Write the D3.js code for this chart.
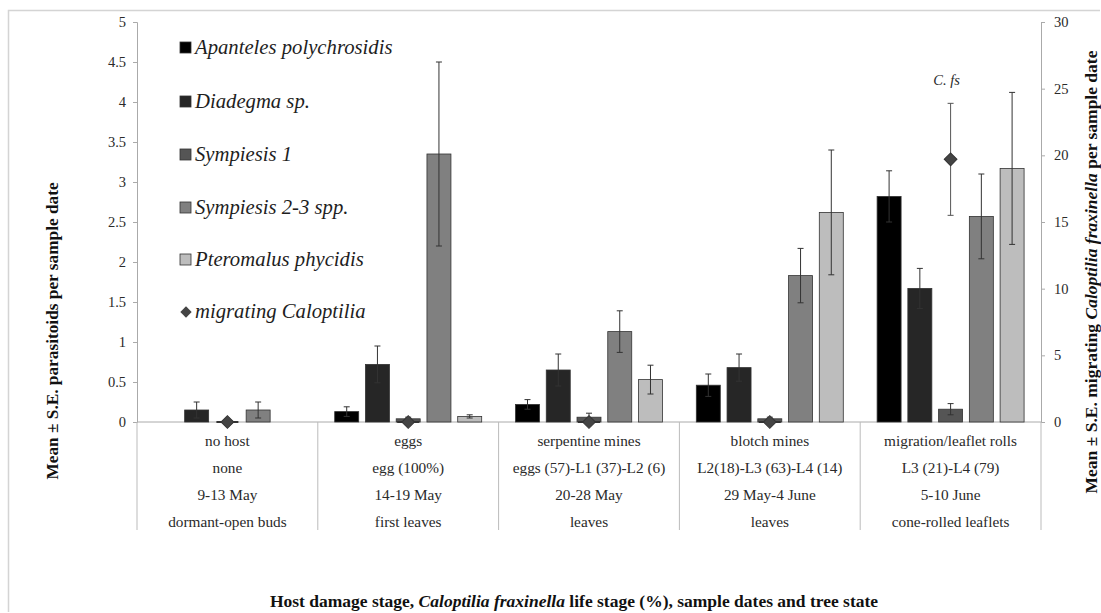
<!DOCTYPE html>
<html>
<head>
<meta charset="utf-8">
<script src="https://cdn.jsdelivr.net/npm/d3@7"></script>
<style>
  body { margin: 0; background: #fff; }
</style>
</head>
<body>
<svg id="chart" width="1101" height="613"></svg>
<script>
// Sampling periods (four rows of category text per period)
const stages = ["no host", "eggs", "serpentine mines", "blotch mines", "migration/leaflet rolls"];
const lifeStages = ["none", "egg (100%)", "eggs (57)-L1 (37)-L2 (6)", "L2(18)-L3 (63)-L4 (14)", "L3 (21)-L4 (79)"];
const dates = ["9-13 May", "14-19 May", "20-28 May", "29 May-4 June", "5-10 June"];
const treeStates = ["dormant-open buds", "first leaves", "leaves", "leaves", "cone-rolled leaflets"];

// Parasitoid series (left axis): mean and S.E. per period
const seriesNames = ["Apanteles polychrosidis", "Diadegma sp.", "Sympiesis 1", "Sympiesis 2-3 spp.", "Pteromalus phycidis"];
const seriesColors = ["#000000", "#262626", "#555555", "#808080", "#bdbdbd"];
const apantelesMean = [0, 0.13, 0.22, 0.46, 2.82];
const apantelesSE   = [0, 0.06, 0.06, 0.14, 0.32];
const diadegmaMean  = [0.15, 0.72, 0.65, 0.68, 1.67];
const diadegmaSE    = [0.10, 0.23, 0.20, 0.17, 0.25];
const symp1Mean     = [0, 0.04, 0.06, 0.04, 0.16];
const symp1SE       = [0, 0.02, 0.05, 0.02, 0.07];
const symp23Mean    = [0.15, 3.35, 1.13, 1.83, 2.57];
const symp23SE      = [0.10, 1.15, 0.26, 0.34, 0.53];
const pteroMean     = [0, 0.07, 0.53, 2.62, 3.17];
const pteroSE       = [0, 0.02, 0.18, 0.78, 0.95];

// Migrating Caloptilia fraxinella (right axis)
const migratingName = "migrating Caloptilia";
const migratingMean = [0, 0, 0, 0, 19.7];
const migratingSE   = [0, 0, 0, 0, 4.2];

const leftTicks = [0, 0.5, 1, 1.5, 2, 2.5, 3, 3.5, 4, 4.5, 5];
const rightTicks = [0, 5, 10, 15, 20, 25, 30];

const means = [apantelesMean, diadegmaMean, symp1Mean, symp23Mean, pteroMean];
const ses = [apantelesSE, diadegmaSE, symp1SE, symp23SE, pteroSE];

const SERIF = "'Liberation Serif', 'Times New Roman', Times, serif";
const svg = d3.select("#chart").attr("font-family", SERIF);
const m = { left: 137, right: 1041, top: 22, bottom: 422 };

// light outer frame
svg.append("path")
  .attr("d", "M8.5,612 V10.5 H1100")
  .attr("fill", "none").attr("stroke", "#d4d4d4").attr("stroke-width", 1.5);

const x0 = d3.scaleBand().domain(d3.range(stages.length)).range([m.left, m.right]).paddingInner(0).paddingOuter(0);
const x1 = d3.scaleBand().domain(d3.range(seriesNames.length)).range([0, x0.bandwidth()]).paddingInner(0.22).paddingOuter(0.55);
const yL = d3.scaleLinear().domain([0, 5]).range([m.bottom, m.top]);
const yR = d3.scaleLinear().domain([0, 30]).range([m.bottom, m.top]);

function styleText(sel, size) {
  return sel.style("font-family", SERIF).style("font-size", size).style("fill", "#2a2a2a");
}

// left axis
const axL = svg.append("g").attr("transform", `translate(${m.left},0)`)
  .call(d3.axisLeft(yL).tickValues(leftTicks).tickSize(4).tickPadding(7).tickFormat(d => String(d)));
axL.select(".domain").attr("stroke", "#aaa");
axL.selectAll(".tick line").attr("stroke", "#aaa");
styleText(axL.selectAll("text"), "14.5px");

// right axis
const axR = svg.append("g").attr("transform", `translate(${m.right},0)`)
  .call(d3.axisRight(yR).tickValues(rightTicks).tickSize(4).tickPadding(9));
axR.select(".domain").attr("stroke", "#aaa");
axR.selectAll(".tick line").attr("stroke", "#aaa");
styleText(axR.selectAll("text"), "14.5px");

// category axis: baseline and separators
svg.append("line").attr("x1", m.left).attr("x2", m.right).attr("y1", m.bottom).attr("y2", m.bottom)
  .attr("stroke", "#aaa");
const seps = d3.range(stages.length + 1).map(i => i < stages.length ? x0(i) : m.right);
svg.selectAll("line.sep").data(seps).join("line").attr("class", "sep")
  .attr("x1", d => d).attr("x2", d => d).attr("y1", m.bottom).attr("y2", 530)
  .attr("stroke", "#bbb");

const rows = [stages, lifeStages, dates, treeStates];
const rowY = [446, 473, 500, 527];
rows.forEach((row, r) => {
  styleText(svg.selectAll(null).data(row).join("text")
    .attr("x", (d, i) => x0(i) + x0.bandwidth() / 2)
    .attr("y", rowY[r])
    .attr("text-anchor", "middle"), "15.3px")
    .text(d => d);
});

// bars with error bars
means.forEach((arr, s) => {
  const g = svg.append("g");
  arr.forEach((v, i) => {
    if (v <= 0) return;
    const bx = x0(i) + x1(s);
    const bw = x1.bandwidth();
    g.append("rect").attr("x", bx).attr("y", yL(v)).attr("width", bw).attr("height", yL(0) - yL(v))
      .attr("fill", seriesColors[s]).attr("stroke", "#333").attr("stroke-width", 0.8);
    const se = ses[s][i];
    const cx = bx + bw / 2;
    const lo = Math.max(0, v - se), hi = v + se;
    g.append("line").attr("x1", cx).attr("x2", cx).attr("y1", yL(lo)).attr("y2", yL(hi))
      .attr("stroke", "#333").attr("stroke-width", 1);
    g.append("line").attr("x1", cx - 3).attr("x2", cx + 3).attr("y1", yL(hi)).attr("y2", yL(hi))
      .attr("stroke", "#333").attr("stroke-width", 1);
    if (v - se > 0) {
      g.append("line").attr("x1", cx - 3).attr("x2", cx + 3).attr("y1", yL(lo)).attr("y2", yL(lo))
        .attr("stroke", "#333").attr("stroke-width", 1);
    }
  });
});

// migrating Caloptilia diamonds on the right scale (square turned 45°)
const diamond = d3.symbol().type(d3.symbolSquare).size(81);
migratingMean.forEach((v, i) => {
  const cx = x0(i) + x1(2) + x1.bandwidth() / 2;
  const se = migratingSE[i];
  if (se > 0) {
    [v - se, v + se].forEach(e => {
      svg.append("line").attr("x1", cx - 3).attr("x2", cx + 3).attr("y1", yR(e)).attr("y2", yR(e))
        .attr("stroke", "#555");
    });
    svg.append("line").attr("x1", cx).attr("x2", cx).attr("y1", yR(v - se)).attr("y2", yR(v + se))
      .attr("stroke", "#555");
  } else {
    svg.append("line").attr("x1", cx - 11).attr("x2", cx + 11).attr("y1", yR(v)).attr("y2", yR(v))
      .attr("stroke", "#333").attr("stroke-width", 2);
  }
  svg.append("path").attr("d", diamond).attr("transform", `translate(${cx},${yR(v)}) rotate(45)`)
    .attr("fill", "#444").attr("stroke", "#333");
});

// C. fs annotation above last diamond
styleText(svg.append("text")
  .attr("x", x0(4) + x1(2) + x1.bandwidth() / 2 - 4)
  .attr("y", yR(migratingMean[4] + migratingSE[4]) - 18)
  .attr("text-anchor", "middle"), "14.5px").style("font-style", "italic")
  .text("C. fs");

// legend
const legendY = [48, 102, 155, 208, 260, 312];
const legendNames = seriesNames.concat([migratingName]);
legendNames.forEach((name, i) => {
  const y = legendY[i];
  if (i < seriesNames.length) {
    svg.append("rect").attr("x", 180).attr("y", y - 6).attr("width", 11).attr("height", 11)
      .attr("fill", seriesColors[i]).attr("stroke", "#333").attr("stroke-width", 0.8);
  } else {
    svg.append("path").attr("d", d3.symbol().type(d3.symbolSquare).size(64))
      .attr("transform", `translate(186,${y}) rotate(45)`).attr("fill", "#444");
  }
  styleText(svg.append("text").attr("x", 195).attr("y", y + 6), "20.7px")
    .style("font-style", "italic").style("fill", "#1e1e1e")
    .text(name);
});

// axis titles
styleText(svg.append("text")
  .attr("transform", "translate(58,331) rotate(-90)")
  .attr("text-anchor", "middle"), "17.3px").style("font-weight", "bold").style("fill", "#111")
  .text("Mean ± S.E. parasitoids per sample date");

const rt = styleText(svg.append("text")
  .attr("transform", "translate(1097,272) rotate(-90)")
  .attr("text-anchor", "middle"), "17.5px").style("font-weight", "bold").style("fill", "#111");
rt.append("tspan").text("Mean ± S.E. migrating ");
rt.append("tspan").style("font-style", "italic").text("Caloptilia fraxinella");
rt.append("tspan").text(" per sample date");

const xt = styleText(svg.append("text")
  .attr("x", 574).attr("y", 607)
  .attr("text-anchor", "middle"), "17.5px").style("font-weight", "bold").style("fill", "#111");
xt.append("tspan").text("Host damage stage, ");
xt.append("tspan").style("font-style", "italic").text("Caloptilia fraxinella");
xt.append("tspan").text(" life stage (%), sample dates and tree state");
</script>
</body>
</html>
